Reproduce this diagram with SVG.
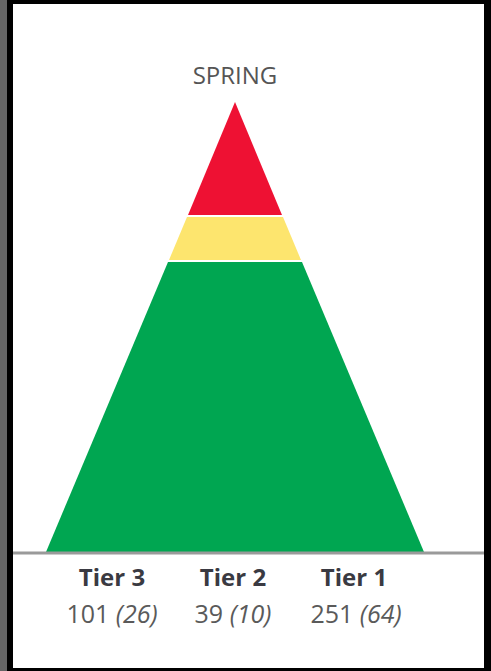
<svg xmlns="http://www.w3.org/2000/svg" width="491" height="671" viewBox="0 0 491 671">
<style>
.lbl{font-family:"Open Sans","Liberation Sans",sans-serif;text-anchor:middle}
.title{font-size:24px;fill:#555}
.tier{font-size:24px;font-weight:bold;fill:#3a3a42}
.num{font-size:25px;fill:#5a5a5a}
.it{font-style:italic}
</style>
<rect x="0" y="0" width="491" height="671" fill="#000"/>
<rect x="0" y="0" width="7" height="671" fill="#656565"/>
<rect x="13" y="4" width="471" height="664" fill="#fff"/>
<g id="pyramid">
<polygon id="tier1" points="168,262 302,262 424,552 46,552" fill="#00a651"/>
<polygon id="tier2" points="187,217 283,217 301,260 169,260" fill="#fde56e"/>
<polygon id="tier3" points="235,102 282,215 188,215" fill="#ee1133"/>
</g>
<g id="connectors">
<line x1="13" y1="553" x2="484" y2="553" stroke="#9a9a9a" stroke-width="3"/>
</g>
<g id="title"><text class="lbl title" x="235" y="84">SPRING</text></g>
<g id="tier3-label">
<text class="lbl tier" x="112" y="586">Tier 3</text>
<text class="lbl num" x="112" y="623">101 <tspan class="it">(26)</tspan></text>
</g>
<g id="tier2-label">
<text class="lbl tier" x="233" y="586">Tier 2</text>
<text class="lbl num" x="233" y="623">39 <tspan class="it">(10)</tspan></text>
</g>
<g id="tier1-label">
<text class="lbl tier" x="354" y="586">Tier 1</text>
<text class="lbl num" x="356" y="623">251 <tspan class="it">(64)</tspan></text>
</g>
</svg>
